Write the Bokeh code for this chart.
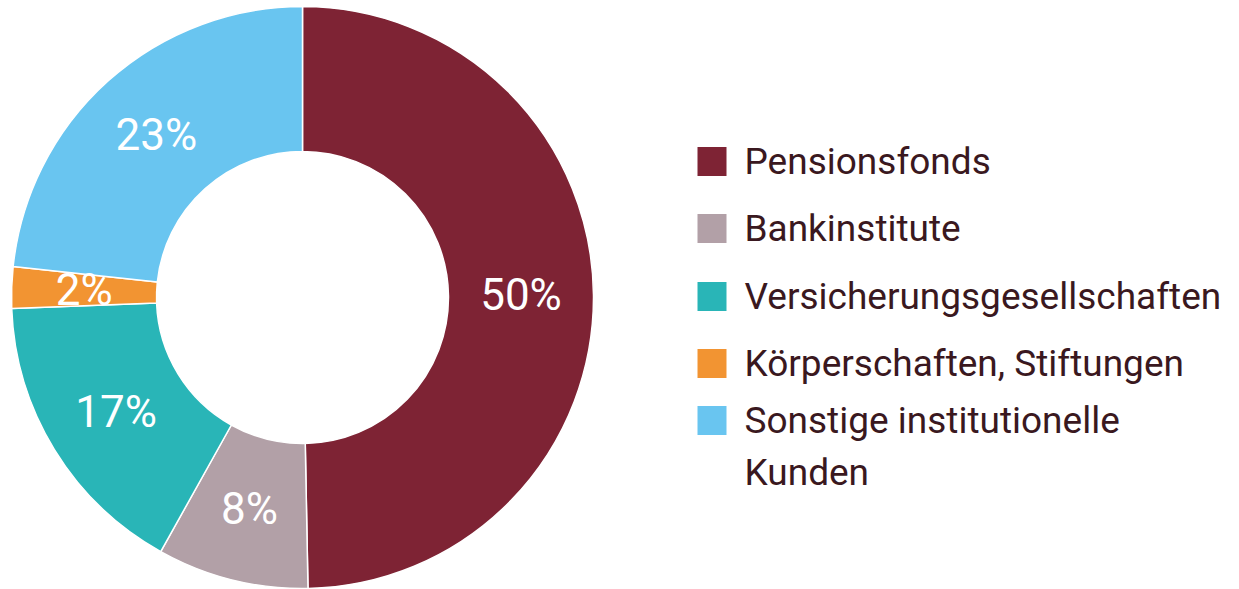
import math
from bokeh.plotting import figure
from bokeh.models import ColumnDataSource, Range1d
from bokeh.core.properties import value
from bokeh.embed import file_html
from bokeh.resources import INLINE

# ---- data ----
categories = ["Pensionsfonds", "Bankinstitute", "Versicherungsgesellschaften",
              "Körperschaften, Stiftungen", "Sonstige institutionelle\nKunden"]
shares = [49.7, 8.4, 16.3, 2.3, 23.3]
pct_labels = ["50%", "8%", "17%", "2%", "23%"]
colors = ["#7e2334", "#b2a0a7", "#29b5b7", "#f29432", "#69c5f0"]

# ---- layout ----
W, H = 1239, 589
FONT = "Roboto"
TEXT_COLOR = "#3a1820"
cx, cy = 302, 297          # page coords
r_out, r_in = 291, 146
r_lab = (r_out + r_in) / 2

p = figure(width=W, height=H, output_backend="svg", toolbar_location=None,
           x_range=Range1d(0, W), y_range=Range1d(-H, 0),
           min_border=0, outline_line_color=None)
p.axis.visible = False
p.grid.visible = False
p.background_fill_color = "white"
p.border_fill_color = "white"

total = sum(shares)
starts, ends, mids = [], [], []
cum = 0.0
for s in shares:
    a0 = math.pi / 2 - 2 * math.pi * cum / total
    cum += s
    a1 = math.pi / 2 - 2 * math.pi * cum / total
    starts.append(a1)
    ends.append(a0)
    mids.append((a0 + a1) / 2)

src = ColumnDataSource(dict(
    start=starts, end=ends, color=colors, cat=categories, lab=pct_labels,
    lx=[cx + r_lab * math.cos(m) for m in mids],
    ly=[-cy + r_lab * math.sin(m) for m in mids],
))

p.annular_wedge(x=cx, y=-cy, inner_radius=r_in, outer_radius=r_out,
                start_angle="start", end_angle="end", direction="anticlock",
                fill_color="color", line_color="white", line_width=1.5, source=src)

p.text(x="lx", y="ly", text="lab", source=src, text_color="white",
       text_font=value(FONT), text_font_size="44px",
       text_align="center", text_baseline="middle")

# ---- legend (drawn manually) ----
row_y = [161, 228, 296, 363, 420]
sq = 29
line_gap = 52
leg_x, leg_y, leg_c = [], [], []
txt_x, txt_y, txt = [], [], []
for i, (c, col) in enumerate(zip(categories, colors)):
    leg_x.append(697 + sq / 2)
    leg_y.append(-row_y[i])
    leg_c.append(col)
    for j, line in enumerate(c.split("\n")):
        txt_x.append(744)
        txt_y.append(-(row_y[i] + j * line_gap))
        txt.append(line)

p.rect(x=leg_x, y=leg_y, width=sq, height=sq, fill_color=leg_c, line_color=None)
p.text(x=txt_x, y=txt_y, text=txt, text_color=TEXT_COLOR,
       text_font=value(FONT), text_font_size="37px",
       text_align="left", text_baseline="middle")

open("out.html", "w").write(file_html(p, INLINE))
